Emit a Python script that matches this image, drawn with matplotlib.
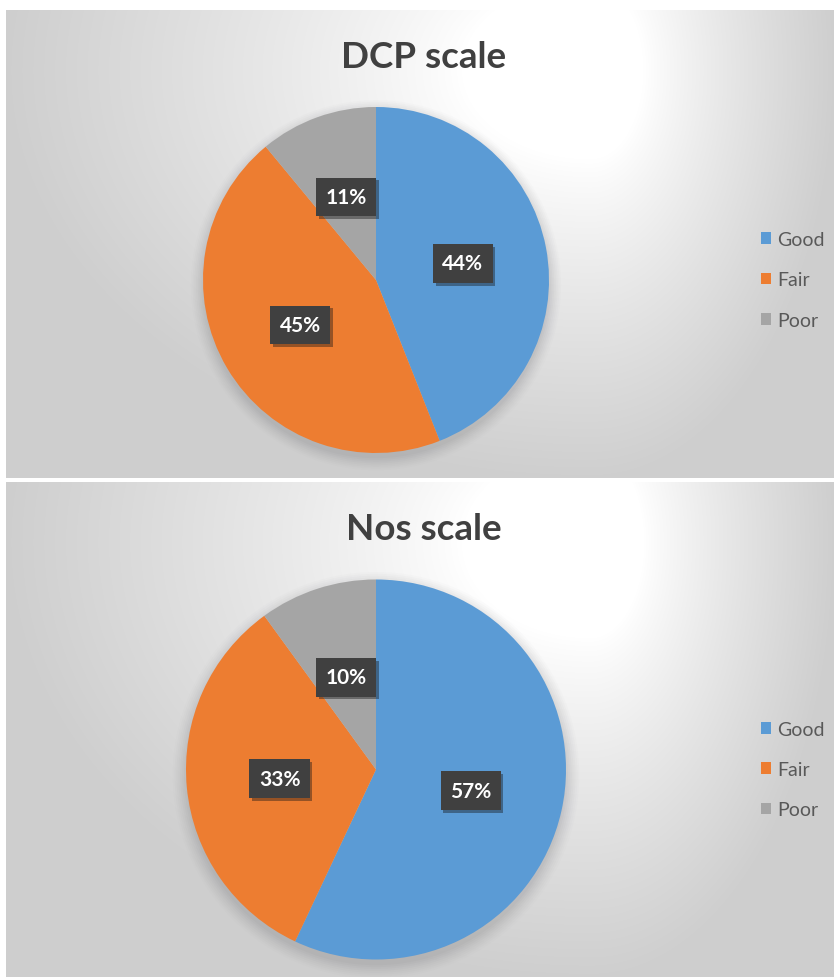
"""
Two Excel-style pie charts (DCP scale / Nos scale) stacked vertically.
"""
from typing import List
import numpy as np
from matplotlib import pyplot as plt
from matplotlib import patheffects

CATEGORIES = ['Good', 'Fair', 'Poor']
COLORS = ['#5B9BD5', '#ED7D31', '#A5A5A5']
DCP_VALUES = [44, 45, 11]
NOS_VALUES = [57, 33, 10]
TITLES = ['DCP scale', 'Nos scale']

W, H = 834, 978
plt.rcParams['font.family'] = ['Lato', 'DejaVu Sans']


def px_box(x0: float, y0: float, w: float, h: float) -> List[float]:
    """Pixel box (top-left origin) to figure fraction rect."""
    return [x0 / W, 1 - (y0 + h) / H, w / W, h / H]


def gradient(w: int, h: int, cx: float, cy: float) -> np.ndarray:
    """Radial light-grey background, white near (cx, cy)."""
    xs, ys = np.meshgrid(np.arange(w), np.arange(h))
    nx = np.where(xs < cx, (xs - cx) / cx, (xs - cx) / (w - cx))
    ny = (ys - cy) / (h - cy)
    t = np.clip(np.hypot(nx, ny), 0, 1)
    val = 1 - 0.19 * np.clip((t - 0.22) / 0.78, 0, 1) ** 0.85
    return np.dstack([val, val, val])


def draw_panel(fig, top: int, bottom: int, values: List[int], title: str,
               cy: float, radius: float):
    """One chart panel: background, title, pie, labels, legend."""
    left, right = 6, W
    pw, ph = right - left, bottom - top
    bg = fig.add_axes(px_box(left, top, pw, ph))
    bg.imshow(gradient(pw, ph, 590 - left, 60), aspect='auto',
              extent=(0, pw, ph, 0), interpolation='bilinear')
    bg.set_axis_off()
    bg.text(424 - left, 46, title, ha='center', va='center', fontsize=26.5,
            fontweight='bold', color='#404040')

    cx = 376
    ext = radius * 1.15
    ax = fig.add_axes(px_box(cx - ext, cy - ext, 2 * ext, 2 * ext))
    ax.set_aspect('equal')
    ax.set_axis_off()
    # soft drop shadow under the pie
    for r, a in zip(np.linspace(1.07, 1.0, 8), np.linspace(0.02, 0.06, 8)):
        ax.add_patch(plt.Circle((0.0, -0.03), r, color='#7a7a80', alpha=a,
                                lw=0, zorder=0))
    wedges, _, autotexts = ax.pie(
        values, colors=COLORS, startangle=90, counterclock=False,
        radius=1, autopct='%1.0f%%', pctdistance=0.51,
        wedgeprops={'linewidth': 0, 'zorder': 2},
        textprops={'color': 'white', 'fontsize': 15, 'fontweight': 'bold'})
    ax.set_xlim(-1.15, 1.15)
    ax.set_ylim(-1.15, 1.15)
    for txt in autotexts:
        txt.set_zorder(5)
        txt.set_bbox({'boxstyle': 'square,pad=0.45', 'facecolor': '#404040',
                      'edgecolor': 'none'})
        txt.get_bbox_patch().set_path_effects(
            [patheffects.SimplePatchShadow(offset=(2, -2), alpha=0.4),
             patheffects.Normal()])

    fig.legend(wedges, CATEGORIES, loc='center left',
               bbox_to_anchor=(753 / W, 1 - cy / H), frameon=False,
               fontsize=14, labelcolor='#595959', handlelength=0.55,
               handleheight=0.55, handletextpad=0.3, labelspacing=1.2,
               borderaxespad=0)


fig = plt.figure(figsize=(W / 100, H / 100), dpi=100)
fig.patch.set_facecolor('white')
draw_panel(fig, 11, 479, DCP_VALUES, TITLES[0], 281, 173)
draw_panel(fig, 483, 978, NOS_VALUES, TITLES[1], 770.5, 190)
fig.savefig('out.png', dpi=100)
